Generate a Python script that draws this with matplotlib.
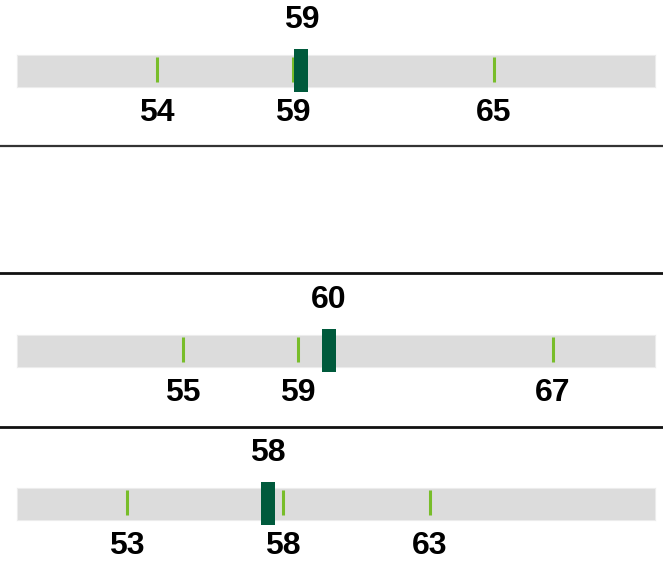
import matplotlib.pyplot as plt
from matplotlib.lines import Line2D

# actual value (dark marker) and three reference ticks per row
actual = [58.86, 59.77, 57.76]
low = [54.11, 54.96, 53.12]
mid = [58.57, 58.75, 58.26]
high = [65.20, 67.14, 63.09]

W, H = 663, 572
fig = plt.figure(figsize=(W / 100, H / 100), dpi=100)
font = dict(family=['Liberation Sans Narrow', 'Liberation Sans'], weight='bold', size=23)

bar_top = [55, 335, 488]   # pixel rows of the grey bands
for i, top in enumerate(bar_top):
    ax = fig.add_axes([17 / W, 1 - (top + 32) / H, 638 / W, 32 / H])
    ax.set_facecolor('#dcdcdc')
    ax.set_xlim(49.5, 70.5)
    ax.set_ylim(0, 1)
    ax.set_xticks([])
    ax.set_yticks([])
    for s in ax.spines.values():
        s.set_color('#ececec')
        s.set_linewidth(0.8)

    ticks = [low[i], mid[i], high[i]]
    ax.vlines(ticks, 0.16, 0.93, color='#78bd2a', linewidth=2.2)
    ax.bar(actual[i], 1.33, width=0.46, bottom=-0.15, color='#005a3c', clip_on=False, zorder=3)

    ax.annotate(f'{round(actual[i])}', (actual[i], 1), xytext=(0, 25.5), textcoords='offset points',
                ha='center', va='center', **font)
    for t in ticks:
        ax.annotate(f'{round(t)}', (t, 0), xytext=(0, -19), textcoords='offset points',
                    ha='center', va='center', **font)

# separators between rows
for y, lw, c in [(146.5, 1.6, '#333333'), (273, 2.0, '#111111'), (427, 2.0, '#111111')]:
    fig.add_artist(Line2D([0, 1], [1 - y / H, 1 - y / H], transform=fig.transFigure,
                          color=c, linewidth=lw))

fig.savefig('out.png', dpi=100)
